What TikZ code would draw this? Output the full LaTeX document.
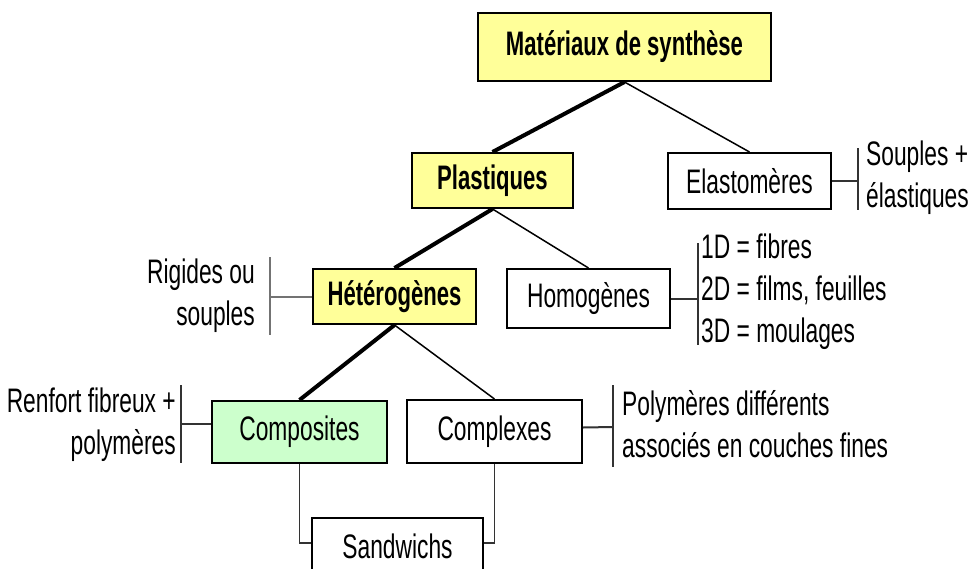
\documentclass[tikz,border=0pt]{standalone}
\usepackage{fontspec}
\setmainfont{Liberation Sans}[UprightFeatures={FakeStretch=0.67},BoldFeatures={FakeStretch=0.65}]
\definecolor{boxyellow}{RGB}{255,255,153}
\definecolor{boxgreen}{RGB}{204,255,204}
\newcommand\txtsize{\fontsize{34}{42}\selectfont}
\begin{document}
\begin{tikzpicture}[x=1pt,y=-1pt,
  box/.style={draw=black, line width=2pt, inner sep=0pt, font=\txtsize},
  boldbox/.style={box, font=\txtsize\bfseries},
  yellowbox/.style={boldbox, fill=boxyellow},
  greenbox/.style={box, fill=boxgreen},
  lbl/.style={font=\txtsize, inner sep=0pt},
  mainlink/.style={line width=4pt},
  sidelink/.style={line width=1.5pt},
  bracket/.style={line width=2pt, draw=black!80}]
\fill[white] (0,0) rectangle (975,568);
\useasboundingbox (0,0) rectangle (975,568);

% boxes of the tree
\node[yellowbox, minimum width=293pt, minimum height=68pt] (mat) at (624.5,47) {Matériaux de synthèse};
\node[yellowbox, minimum width=161pt, minimum height=55pt] (plast) at (492.5,180.5) {Plastiques};
\node[box, fill=white, minimum width=163pt, minimum height=56pt] (elast) at (749.5,181) {Elastomères};
\node[yellowbox, minimum width=163pt, minimum height=55pt] (het) at (394.5,296.5) {Hétérogènes};
\node[box, fill=white, minimum width=163pt, minimum height=59pt] (hom) at (588.5,298.5) {Homogènes};
\node[greenbox, minimum width=175pt, minimum height=62pt] (compo) at (299.5,432) {Composites};
\node[box, fill=white, minimum width=175pt, minimum height=63pt] (cplx) at (494.5,431.5) {Complexes};
\node[box, fill=white, minimum width=171pt, minimum height=56pt] (sand) at (397.5,546) {Sandwichs};

% branches
\draw[mainlink] (mat.south) -- (plast.north);
\draw[sidelink] (mat.south) -- (elast.north);
\draw[mainlink] (plast.south) -- (het.north);
\draw[sidelink] (plast.south) -- (hom.north);
\draw[mainlink] (het.south) -- (compo.north);
\draw[sidelink] (het.south) -- (cplx.north);
\draw[bracket, line width=1.5pt] (compo.south) |- ([yshift=3pt]sand.west);
\draw[bracket, line width=1.5pt] (cplx.south) |- ([yshift=3pt]sand.east);

% notes beside the boxes
\coordinate (elbar) at (858,181);
\draw[bracket] (858,148) -- (858,210);
\draw[bracket] (elast.east) -- (elbar);
\node[lbl, anchor=west, align=left] (elnote) at (866,178) {Souples +\\élastiques};

\coordinate (hetbar) at (270,296.5);
\draw[bracket, draw=black!55] (270,257) -- (270,335);
\draw[bracket, draw=black!55] (het.west) -- (hetbar);
\node[lbl, anchor=east, align=right] (hetnote) at (255,296) {Rigides ou\\souples};

\coordinate (hombar) at (698,298.5);
\draw[bracket] (698,243) -- (698,345);
\draw[bracket] (hom.east) -- (hombar);
\node[lbl, anchor=west, align=left] (homnote) at (701,292) {1D = fibres\\2D = films, feuilles\\3D = moulages};

\coordinate (compobar) at (181,424);
\draw[bracket] (181,385) -- (181,463);
\draw[bracket] ([yshift=8pt]compo.west) -- (compobar);
\node[lbl, anchor=east, align=right] (componote) at (176,425) {Renfort fibreux +\\polymères};

\coordinate (cplxbar) at (613,427);
\draw[bracket] (613,385) -- (613,467);
\draw[bracket] ([yshift=4pt]cplx.east) -- (cplxbar);
\node[lbl, anchor=west, align=left] (cplxnote) at (622,424) {Polymères différents\\associés en couches fines};
\end{tikzpicture}
\end{document}
